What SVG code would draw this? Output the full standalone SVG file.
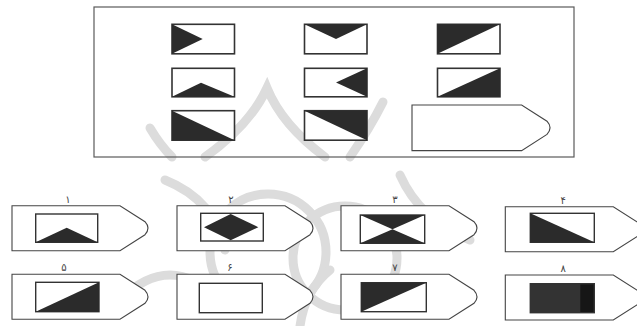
<svg xmlns="http://www.w3.org/2000/svg" width="637" height="326" viewBox="0 0 637 326">
  <defs>
    <style>
      .frame { fill: none; stroke: #5a5a5a; stroke-width: 1.2; }
      .cell { fill: #fff; stroke: #333; stroke-width: 1.6; }
      .inner { fill: none; stroke: #333; stroke-width: 1.4; }
      .tag { fill: #fff; stroke: #444; stroke-width: 1.1; }
      .dark { fill: #2b2b2b; }
      .lbl { font-family: "DejaVu Sans", "Noto Sans", sans-serif; font-size: 10px; fill: #444; text-anchor: middle; }
      .wm { fill: none; stroke: #dcdcdc; stroke-width: 9; stroke-linecap: round; }
    </style>
    <path id="tagShape" d="M0,0 H108 L133,16 Q139,22.5 133,29 L108,45 H0 Z"/>
  </defs>
  <rect width="637" height="326" fill="#fff"/>

  <g id="watermark">
    <path class="wm" d="M205,157 Q250,125 267,88 Q282,125 325,157"/>
    <path class="wm" d="M150,128 Q160,145 172,157"/>
    <path class="wm" d="M350,157 Q370,128 383,102"/>
    <circle class="wm" cx="268" cy="252" r="58"/>
    <circle class="wm" cx="345" cy="258" r="52"/>
    <path class="wm" d="M165,180 Q215,200 225,250"/>
    <path class="wm" d="M120,300 Q170,250 220,300"/>
    <path class="wm" d="M400,175 Q420,220 470,240"/>
    <path class="wm" d="M300,326 Q305,290 330,270"/>
  </g>

  <rect class="frame" x="94" y="7" width="480" height="150"/>

  <g id="matrix">
    <g id="m11" transform="translate(172,24.3)"><rect class="cell" width="62.5" height="29.5"/><polygon class="dark" points="0,0 0,29.5 30.7,14.75"/></g>
    <g id="m12" transform="translate(304.5,24.3)"><rect class="cell" width="62.5" height="29.5"/><polygon class="dark" points="0,0 62.5,0 31.5,14.7"/></g>
    <g id="m13" transform="translate(437.5,24.3)"><rect class="cell" width="62.5" height="29.5"/><polygon class="dark" points="0,0 62.5,0 0,29.5"/></g>
    <g id="m21" transform="translate(172,68.3)"><rect class="cell" width="62.5" height="28.5"/><polygon class="dark" points="0,28.5 62.5,28.5 29,14.4"/></g>
    <g id="m22" transform="translate(304.5,68.3)"><rect class="cell" width="62.5" height="28.5"/><polygon class="dark" points="62.5,0 62.5,28.5 31.5,14.2"/></g>
    <g id="m23" transform="translate(437.5,68.3)"><rect class="cell" width="62.5" height="28.5"/><polygon class="dark" points="0,28.5 62.5,0 62.5,28.5"/></g>
    <g id="m31" transform="translate(172,110.7)"><rect class="cell" width="62.5" height="29.5"/><polygon class="dark" points="0,0 0,29.5 62.5,29.5"/></g>
    <g id="m32" transform="translate(304.5,110.7)"><rect class="cell" width="62.5" height="29.5"/><polygon class="dark" points="0,0 62.5,0 62.5,29.5"/></g>
    <g id="m33" transform="translate(412,105)"><use href="#tagShape" class="tag" transform="scale(1.015,1.015)"/></g>
  </g>

  <g id="opt1" transform="translate(12,205.7)">
    <use href="#tagShape" class="tag"/>
    <text class="lbl" x="56" y="-3">۱</text>
    <g transform="translate(23.7,8.3)"><rect class="inner" width="62" height="28.3"/><polygon class="dark" points="0,28.3 62,28.3 31,13.7"/></g>
  </g>
  <g id="opt2" transform="translate(177,205.7)">
    <use href="#tagShape" class="tag"/>
    <text class="lbl" x="54" y="-3">۲</text>
    <g transform="translate(23.7,7.6)"><rect class="inner" width="62.6" height="27.7"/><polygon class="dark" points="3.3,13.85 30,0.7 57.6,13.85 30,27"/></g>
  </g>
  <g id="opt3" transform="translate(341,205.7)">
    <use href="#tagShape" class="tag"/>
    <text class="lbl" x="54" y="-3">۳</text>
    <g transform="translate(19.3,9.3)"><rect class="inner" width="64.4" height="28.3"/><polygon class="dark" points="0,0 64.4,0 32.2,14.15"/><polygon class="dark" points="0,28.3 64.4,28.3 32.2,14.15"/></g>
  </g>
  <g id="opt4" transform="translate(505.3,206.7)">
    <use href="#tagShape" class="tag"/>
    <text class="lbl" x="58" y="-3">۴</text>
    <g transform="translate(25,6.6)"><rect class="inner" width="64" height="29"/><polygon class="dark" points="0,0 0,29 64,29"/></g>
  </g>
  <g id="opt5" transform="translate(12,274.3)">
    <use href="#tagShape" class="tag"/>
    <text class="lbl" x="52" y="-3">۵</text>
    <g transform="translate(23.7,8)"><rect class="inner" width="63.3" height="29.4"/><polygon class="dark" points="0,29.4 63.3,0 63.3,29.4"/></g>
  </g>
  <g id="opt6" transform="translate(177,274.3)">
    <use href="#tagShape" class="tag"/>
    <text class="lbl" x="53" y="-3">۶</text>
    <g transform="translate(22.3,9)"><rect class="inner" width="63" height="29.4"/></g>
  </g>
  <g id="opt7" transform="translate(341,274.3)">
    <use href="#tagShape" class="tag"/>
    <text class="lbl" x="54" y="-3">۷</text>
    <g transform="translate(20.3,8.4)"><rect class="inner" width="65" height="29"/><polygon class="dark" points="0,0 65,0 0,29"/></g>
  </g>
  <g id="opt8" transform="translate(505.3,275)">
    <use href="#tagShape" class="tag"/>
    <text class="lbl" x="58" y="-3">۸</text>
    <g transform="translate(25,8.7)"><rect width="64" height="29" fill="#333"/><rect x="50" width="14" height="29" fill="#161616"/><rect class="inner" width="64" height="29"/></g>
  </g>
</svg>
